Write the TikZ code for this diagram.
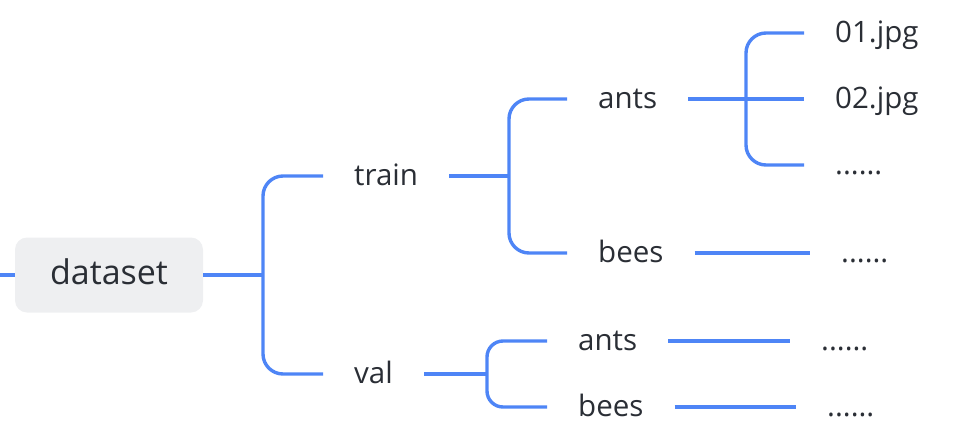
\documentclass[tikz,border=0pt]{standalone}
\usepackage{fontspec}
\setmainfont{Open Sans}
\definecolor{branchblue}{HTML}{4E85F6}
\definecolor{boxgray}{HTML}{EEEFF1}
\definecolor{textdark}{HTML}{2A2E35}
\begin{document}
\begin{tikzpicture}[x=1pt,y=-1pt,
        branch/.style={draw=branchblue,line width=3.4pt},
        leaf/.style={anchor=west,inner xsep=31pt,inner ysep=0pt,text=textdark,
            font=\fontsize{29.5}{34}\selectfont,text height=27pt,text depth=9pt},
        rootbox/.style={fill=boxgray,rounded corners=12pt,minimum width=188pt,
            minimum height=75pt,text=textdark,font=\fontsize{34}{40}\selectfont,
            text height=27pt,text depth=8pt}]
        \useasboundingbox (0,0) rectangle (977,439);

        \node[rootbox] (dataset) at (109,275) {dataset};
        \coordinate (start) at (0,275);

        \node[leaf] (train) at (323,176) {train};
        \node[leaf] (val) at (323,374) {val};

        \node[leaf] (trants) at (567,99) {ants};
        \node[leaf] (trbees) at (567,253) {bees};
        \node[leaf] (img1) at (804,33) {01.jpg};
        \node[leaf] (img2) at (804,99) {02.jpg};
        \node[leaf] (imgmore) at (804,165) {......};
        \node[leaf] (trbeesmore) at (810,253) {......};

        \node[leaf] (valants) at (547,341) {ants};
        \node[leaf] (valbees) at (547,407) {bees};
        \node[leaf] (valantsmore) at (790,341) {......};
        \node[leaf] (valbeesmore) at (796,407) {......};

        \coordinate (j1) at (263,275);
        \coordinate (j2) at (509,176);
        \coordinate (j3) at (746,99);
        \coordinate (j4) at (487,374);

        % dataset
        \draw[branch] (start) -- (dataset.west);
        \draw[branch] (dataset.east) -- (j1);
        \draw[branch,rounded corners=20pt] (train.west) -| (j1 |- val.west) -- (val.west);

        % train
        \draw[branch] (train.east) -- (j2);
        \draw[branch,rounded corners=20pt] (trants.west) -| (j2 |- trbees.west) -- (trbees.west);
        \draw[branch] (trants.east) -- (img2.west);
        \draw[branch,rounded corners=20pt] (img1.west) -| (j3 |- imgmore.west) -- (imgmore.west);
        \draw[branch] (trbees.east) -- (trbeesmore.west);

        % val
        \draw[branch] (val.east) -- (j4);
        \draw[branch,rounded corners=16pt] (valants.west) -| (j4 |- valbees.west) -- (valbees.west);
        \draw[branch] (valants.east) -- (valantsmore.west);
        \draw[branch] (valbees.east) -- (valbeesmore.west);
\end{tikzpicture}
\end{document}
